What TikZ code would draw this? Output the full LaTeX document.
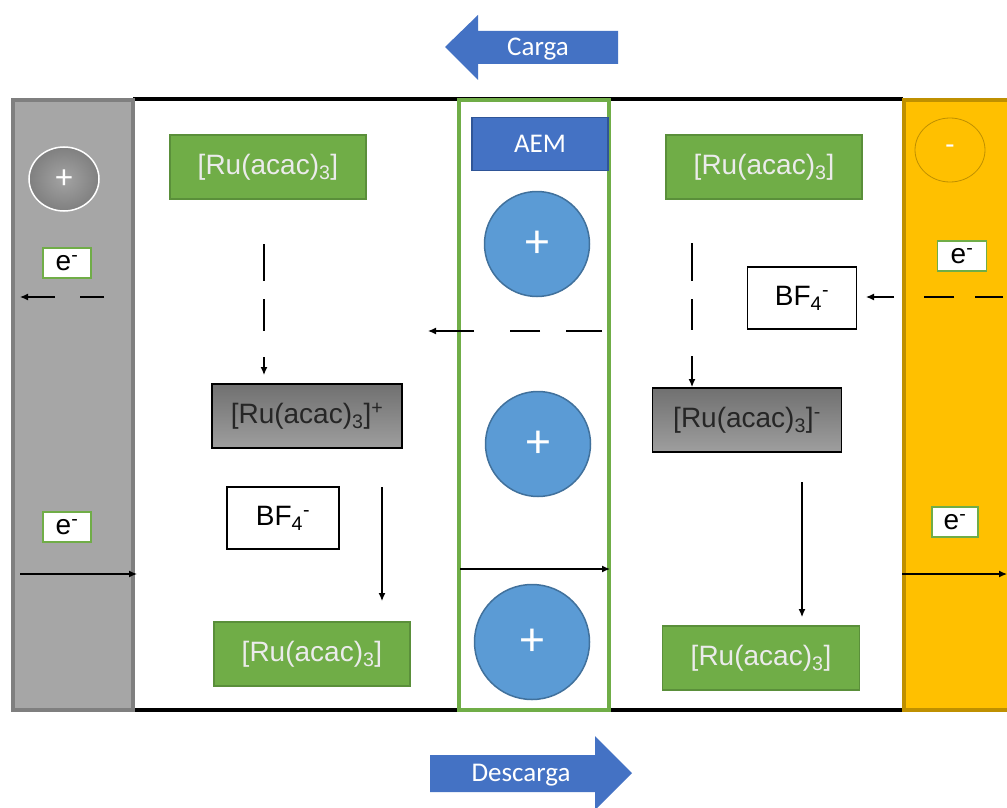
\documentclass[tikz,border=0pt]{standalone}
\usepackage{fontspec}
\setmainfont{Liberation Sans}
\newfontfamily\calibri{Carlito}
\usetikzlibrary{arrows.meta,shapes.geometric}

\definecolor{leafgreen}{HTML}{70AD47}
\definecolor{leafedge}{HTML}{5A8F3A}
\definecolor{skyblue}{HTML}{5B9BD5}
\definecolor{skyedge}{HTML}{41719C}
\definecolor{royal}{HTML}{4472C4}
\definecolor{royaledge}{HTML}{2F5597}
\definecolor{amber}{HTML}{FFC000}
\definecolor{amberedge}{HTML}{BF9000}
\definecolor{slate}{HTML}{A6A6A6}
\definecolor{slateedge}{HTML}{7F7F7F}
\definecolor{inktext}{HTML}{262626}

\begin{document}
\begin{tikzpicture}[x=1pt,y=-1pt,
  lbl/.style={font=\fontsize{28}{32}\selectfont},
  greenbox/.style={lbl, draw=leafedge, line width=1.2pt, fill=leafgreen,
    text=white!92!black, inner sep=0pt, minimum width=196pt, minimum height=64pt},
  graybox/.style={lbl, draw=black, line width=1.5pt, top color=black!56,
    bottom color=black!38, text=inktext, inner sep=0pt,
    minimum width=190pt, minimum height=64pt},
  ionbox/.style={lbl, draw=black, line width=1.2pt, fill=white, inner sep=0pt,
    minimum width=111pt, minimum height=62pt},
  ebox/.style={lbl, draw=leafgreen, line width=1.2pt, fill=white, inner sep=0pt,
    minimum width=48pt, minimum height=30pt},
  cation/.style={circle, fill=skyblue, draw=skyedge, line width=1.5pt,
    inner sep=0pt, text=white, font=\calibri\fontsize{48}{48}\selectfont},
  pole/.style={ellipse, inner sep=0pt, minimum width=70pt, minimum height=64pt,
    text=white, font=\calibri\fontsize{34}{34}\selectfont},
  flow/.style={-{Latex[length=8pt,width=7pt]}, line width=1.2pt},
  bigarrow/.style={fill=royal},
  arrowtext/.style={text=white, font=\calibri\fontsize{27}{30}\selectfont}
]
\useasboundingbox (0,0) rectangle (1007,808);
\clip (0,0) rectangle (1007,808);
\fill[white] (0,0) rectangle (1007,808);

% cell walls
\draw[line width=4pt] (133,99) -- (903,99);
\draw[line width=4pt] (133,710) -- (903,710);

% electrodes
\draw[fill=slate, draw=slateedge, line width=4pt] (13,100) rectangle (133,710);
\draw[fill=amber, draw=amberedge, line width=4pt] (904,100) rectangle (1014,710);

% membrane
\draw[fill=white, draw=leafgreen, line width=4pt] (459,100) rectangle (609,710);

% electrode poles
\node[pole, inner color=black!36, outer color=black!50, draw=white, line width=1.5pt] (anode) at (64,179) {+};
\node[pole, fill=amber, draw=amberedge, line width=0.8pt, font=\calibri\fontsize{30}{30}\selectfont] (cathode) at (950,150) {-};

% membrane label and cations
\node[draw=royaledge, line width=1.2pt, fill=royal, text=white, inner sep=0pt,
  minimum width=136pt, minimum height=53pt,
  font=\calibri\fontsize{27}{30}\selectfont] (aem) at (540,144) {AEM};
\node[cation, minimum size=105pt] (c1) at (537,244) {+};
\node[cation, minimum size=105pt] (c2) at (538,444) {+};
\node[cation, minimum size=115pt] (c3) at (532,642) {+};

% charge / discharge arrows
\fill[bigarrow] (445,47) -- (478,15) -- (478,31) -- (618,31) -- (618,64)
  -- (478,64) -- (478,80) -- cycle;
\node[arrowtext] (carga) at (538,49) {Carga};
\fill[bigarrow] (430,755) -- (595,755) -- (595,736) -- (632,773) -- (595,810)
  -- (595,792) -- (430,792) -- cycle;
\node[arrowtext] (descarga) at (521,775) {Descarga};

% species, left half-cell
\node[greenbox] (gtl) at (268,167) {[Ru(acac)\textsubscript{3}]};
\node[graybox] (xl) at (307,416) {[Ru(acac)\textsubscript{3}]\textsuperscript{+}};
\node[ionbox, minimum width=112pt] (bfl) at (283,518) {BF\textsubscript{4}\textsuperscript{-}};
\node[greenbox] (gbl) at (312,654) {[Ru(acac)\textsubscript{3}]};

% species, right half-cell
\node[greenbox] (gtr) at (764,167) {[Ru(acac)\textsubscript{3}]};
\node[ionbox, minimum width=109pt] (bfr) at (802,298) {BF\textsubscript{4}\textsuperscript{-}};
\node[graybox, minimum width=189pt] (xr) at (747,420) {[Ru(acac)\textsubscript{3}]\textsuperscript{-}};
\node[greenbox, minimum width=197pt] (gbr) at (761,658) {[Ru(acac)\textsubscript{3}]};

% electron labels
\node[ebox] (e1) at (67,263) {e\textsuperscript{-}};
\node[ebox] (e2) at (67,527) {e\textsuperscript{-}};
\node[ebox, minimum width=49pt] (e3) at (962,256) {e\textsuperscript{-}};
\node[ebox, minimum width=46pt] (e4) at (955,522) {e\textsuperscript{-}};

% connector end points
\coordinate (a1s) at (104,297);  \coordinate (a1e) at (20,297);
\coordinate (a2s) at (602,331);  \coordinate (a2e) at (428,331);
\coordinate (a3s) at (1003,297); \coordinate (a3e) at (866,297);
\coordinate (a4s) at (264,244);  \coordinate (a4e) at (264,375);
\coordinate (a5s) at (692,243);  \coordinate (a5e) at (692,387);
\coordinate (b1s) at (20,574);   \coordinate (b1e) at (137,574);
\coordinate (b2s) at (460,569);  \coordinate (b2e) at (610,569);
\coordinate (b3s) at (902,574);  \coordinate (b3e) at (1007,574);
\coordinate (b4s) at (382,487);  \coordinate (b4e) at (382,601);
\coordinate (b5s) at (802,482);  \coordinate (b5e) at (802,617);

% charging (dashed)
\draw[flow, dash pattern=on 24pt off 25pt on 60pt] (a1s) -- (a1e);
\draw[flow, dash pattern=on 36pt off 26pt on 30pt off 36pt on 60pt] (a2s) -- (a2e);
\draw[flow, dash pattern=on 28pt off 21pt on 30pt off 30pt on 60pt] (a3s) -- (a3e);
\draw[flow, dash pattern=on 37pt off 18pt on 32pt off 26pt on 60pt] (a4s) -- (a4e);
\draw[flow, dash pattern=on 38pt off 18pt on 31pt off 26pt on 60pt] (a5s) -- (a5e);

% discharging (solid)
\draw[flow] (b1s) -- (b1e);
\draw[flow] (b2s) -- (b2e);
\draw[flow] (b3s) -- (b3e);
\draw[flow] (b4s) -- (b4e);
\draw[flow] (b5s) -- (b5e);
\end{tikzpicture}
\end{document}
